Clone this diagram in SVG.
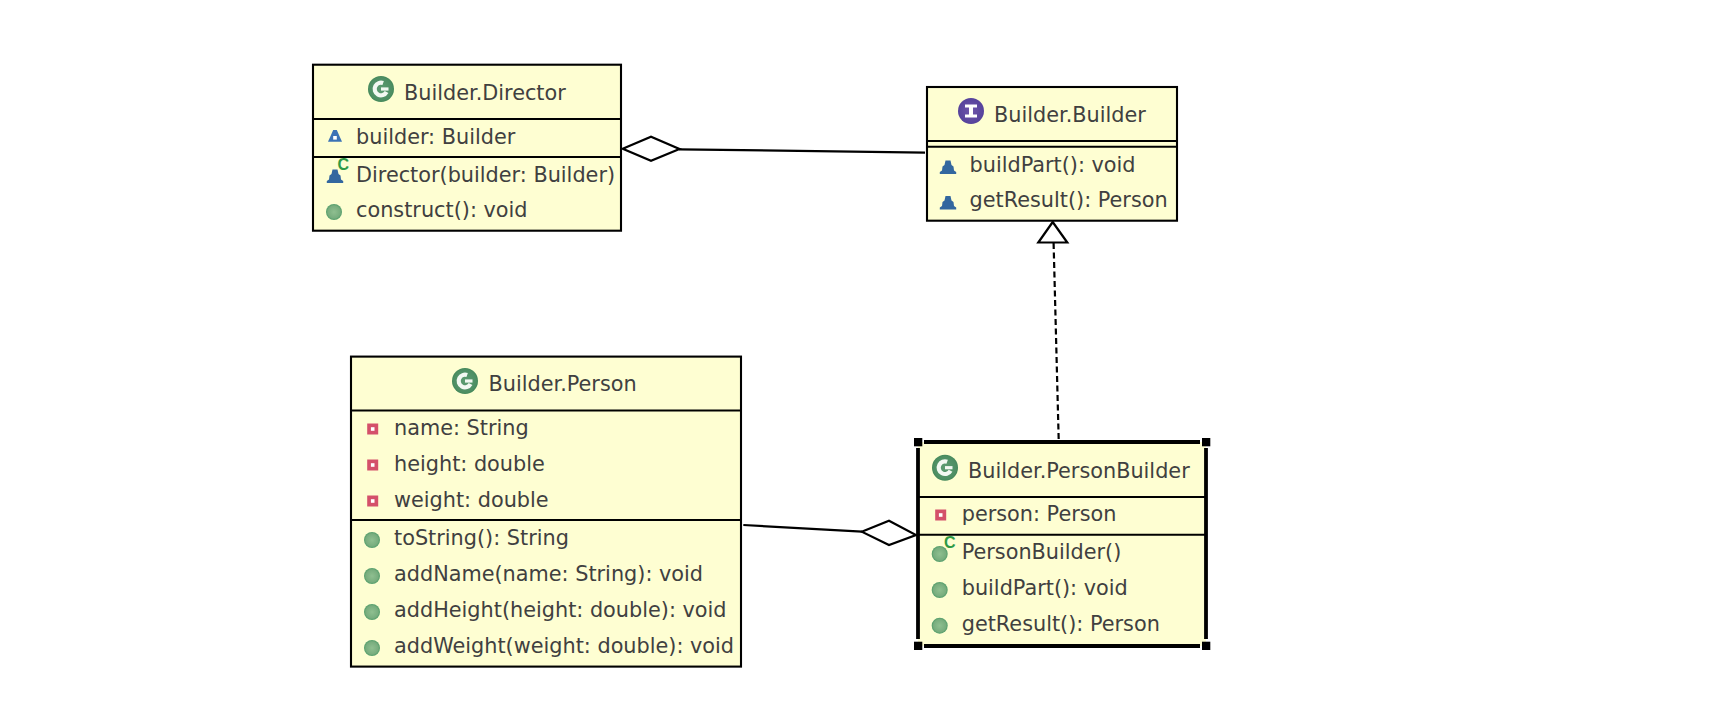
<svg xmlns="http://www.w3.org/2000/svg" xmlns:xlink="http://www.w3.org/1999/xlink" width="1724" height="714" viewBox="0 0 1724 714">
<style>
.box{fill:#fefed2;stroke:#000;stroke-width:2.1}
.div{stroke:#000;stroke-width:2;fill:none}
text{font-family:"DejaVu Sans","Liberation Sans",sans-serif;font-size:20.8px;fill:#404040}
.dec{font-family:"Liberation Sans",sans-serif;font-weight:bold;font-size:16px;fill:#2e9a45}
.conn{stroke:#000;stroke-width:2.2;fill:none}
.head{stroke:#000;stroke-width:2.2;fill:#fff}
.hd{fill:#000}
</style>
<defs>
<radialGradient id="g" cx="50%" cy="50%" r="55%"><stop offset="0" stop-color="#8fbf90"/><stop offset=".7" stop-color="#78ad7e"/><stop offset="1" stop-color="#3f9560"/></radialGradient>
<radialGradient id="gc" cx="50%" cy="50%" r="55%"><stop offset="0" stop-color="#5d9c72"/><stop offset=".8" stop-color="#4d8e63"/><stop offset="1" stop-color="#38814f"/></radialGradient>
<radialGradient id="gi" cx="50%" cy="50%" r="55%"><stop offset="0" stop-color="#6f56aa"/><stop offset="1" stop-color="#53409a"/></radialGradient>
<g id="pub"><circle r="8" fill="url(#g)"/></g>
<g id="priv"><rect x="-5.5" y="-5.5" width="11" height="11" fill="#d4506a"/><rect x="-1.8" y="-1.8" width="3.6" height="3.6" fill="#fff"/></g>
<g id="pkg"><path d="M-2.5-7H2.5L3.5-2.5 5.5-1 6 3 8.2 4.5V6.5H-8.2V4.5L-6 3-5.5-1-3.5-2.5Z" fill="#33679f"/></g>
<g id="pkgf"><path d="M-1.8-6H1.8L7 5.7H-7Z" fill="#3b72b5"/><rect x="-1.8" y="0" width="3.6" height="3.6" fill="#fff"/></g>
<g id="cls"><circle r="13" fill="url(#gc)"/><circle r="6.3" fill="none" stroke="#f2f8f2" stroke-width="4.2" stroke-dasharray="28 12" transform="rotate(28)"/><rect x="0" y="-1.6" width="7.5" height="3.2" fill="#f2f8f2"/></g>
<g id="ifc"><circle r="13" fill="url(#gi)"/><rect x="-6" y="-6.5" width="12" height="3" fill="#fff"/><rect x="-6" y="3.5" width="12" height="3" fill="#fff"/><rect x="-2" y="-5" width="4" height="10" fill="#fff"/></g>
</defs>
<rect width="1724" height="714" fill="#fff"/>

<g id="connectors">
<path class="conn" d="M679 149.3L925 152.7"/>
<path class="head" d="M622.7 148.8L651 136.7 679.5 149 651 160.7Z"/>
<path class="conn" d="M1053.6 243L1058.7 440" stroke-dasharray="6 3.5"/>
<path class="head" d="M1052.7 222L1067.3 242.5H1038.3Z"/>
<path class="conn" d="M743.3 525L862 531.7"/>
<path class="head" d="M861.7 531.7L889 520.7 916 535 889 545Z"/>
</g>

<g id="node-director">
<rect class="box" x="313" y="64.7" width="308" height="166"/>
<path class="div" d="M313 119H621M313 157H621"/>
<use href="#cls" x="381" y="89"/>
<text x="404" y="100">Builder.Director</text>
<use href="#pkgf" x="335" y="136"/>
<text x="356" y="144">builder: Builder</text>
<use href="#pkg" x="335" y="176.5"/>
<text class="dec" x="337.5" y="170">C</text>
<text x="356" y="181.7">Director(builder: Builder)</text>
<use href="#pub" x="334" y="212"/>
<text x="356" y="217.3">construct(): void</text>
</g>

<g id="node-builder">
<rect class="box" x="927" y="87" width="250" height="133.7"/>
<path class="div" d="M927 141H1177M927 146.7H1177"/>
<use href="#ifc" x="971" y="111"/>
<text x="994" y="121.7">Builder.Builder</text>
<use href="#pkg" x="948" y="167.5"/>
<text x="969.5" y="171.7">buildPart(): void</text>
<use href="#pkg" x="948" y="203"/>
<text x="969.5" y="207">getResult(): Person</text>
</g>

<g id="node-person">
<rect class="box" x="351" y="356.6" width="390" height="310"/>
<path class="div" d="M351 410.5H741M351 520H741"/>
<use href="#cls" x="465" y="381"/>
<text x="488.5" y="391">Builder.Person</text>
<use href="#priv" x="372.7" y="429"/>
<text x="394" y="435.2">name: String</text>
<use href="#priv" x="372.7" y="465"/>
<text x="394" y="471">height: double</text>
<use href="#priv" x="372.7" y="501"/>
<text x="394" y="507">weight: double</text>
<use href="#pub" x="372" y="540"/>
<text x="394" y="545.3">toString(): String</text>
<use href="#pub" x="372" y="576"/>
<text x="394" y="581">addName(name: String): void</text>
<use href="#pub" x="372" y="612"/>
<text x="394" y="617">addHeight(height: double): void</text>
<use href="#pub" x="372" y="648"/>
<text x="394" y="653">addWeight(weight: double): void</text>
</g>

<g id="node-personbuilder">
<rect x="918" y="442" width="288" height="204" fill="#fefed2"/>
<path d="M924 442H1200M924 646H1200M918 448V639M1206 448V639" stroke="#000" stroke-width="3.8" fill="none"/>
<path class="div" d="M918 497H1206M918 534.7H1206"/>
<rect class="hd" x="914" y="438" width="8.3" height="8.3"/>
<rect class="hd" x="1202" y="438" width="8.3" height="8.3"/>
<rect class="hd" x="914" y="641.7" width="8.3" height="8.3"/>
<rect class="hd" x="1202" y="641.7" width="8.3" height="8.3"/>
<use href="#cls" x="945" y="467.7"/>
<text x="968" y="477.6">Builder.PersonBuilder</text>
<use href="#priv" x="940.7" y="515"/>
<text x="961.7" y="521">person: Person</text>
<use href="#pub" x="939.7" y="554"/>
<text class="dec" x="944" y="547.5">C</text>
<text x="961.7" y="559.3">PersonBuilder()</text>
<use href="#pub" x="939.7" y="590"/>
<text x="961.7" y="595">buildPart(): void</text>
<use href="#pub" x="939.7" y="625.7"/>
<text x="961.7" y="630.6">getResult(): Person</text>
</g>
</svg>
